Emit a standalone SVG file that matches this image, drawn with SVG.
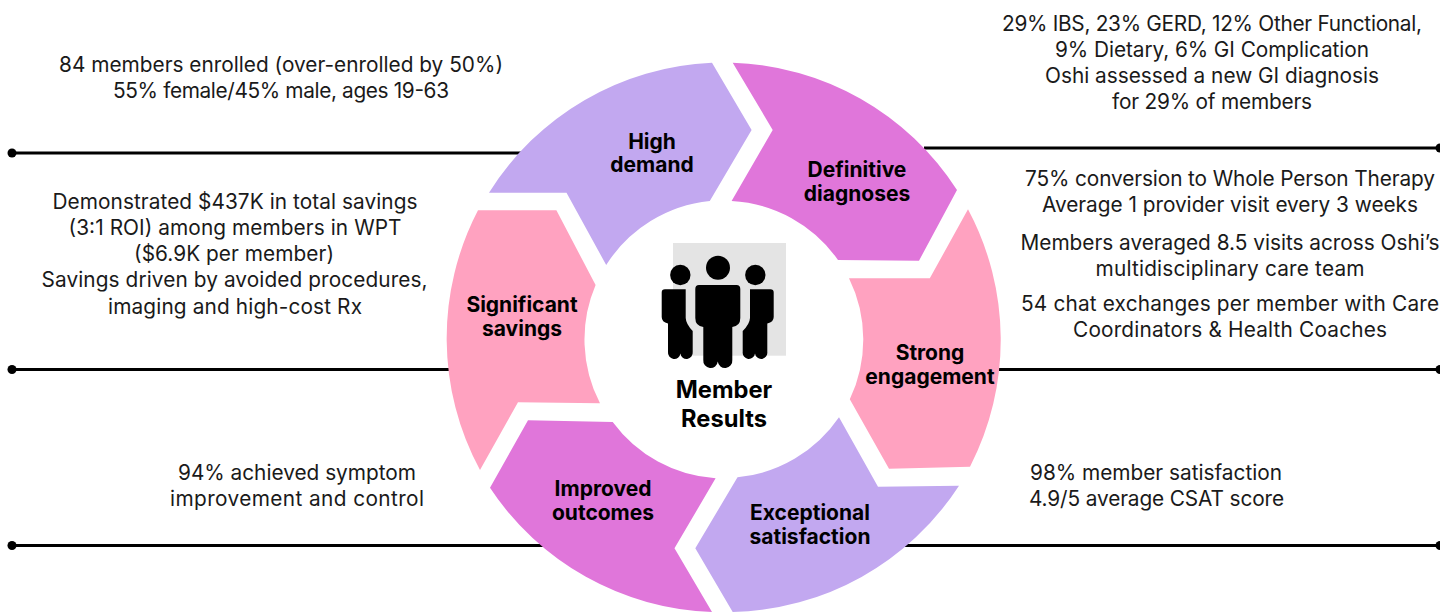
<svg xmlns="http://www.w3.org/2000/svg" width="1440" height="612" viewBox="0 0 1440 612">
<style>
.t{font-family:"Inter","Liberation Sans",sans-serif;font-size:20.8px;fill:#1a1a1a;text-anchor:middle}
.b{font-family:"Inter","Liberation Sans",sans-serif;font-size:21px;font-weight:700;fill:#000;text-anchor:middle}
.c{font-size:23.700px}
.l{stroke:#000;stroke-width:3;fill:none}
.lav{fill:#c2a8f0}.mag{fill:#e076da}.pink{fill:#ffa2c0}
</style>
<rect width="1440" height="612" fill="#fff"/>
<g id="connectors">
<path class="l" d="M12 153H525M924 148H1440M12 369.500H452M998 369.500H1440M12 545.500H545M900 545.500H1440"/>
<circle cx="12" cy="153" r="4.500"/><circle cx="1440" cy="148" r="4.500"/><circle cx="12" cy="369.500" r="4.500"/><circle cx="1440" cy="369.500" r="4.500"/><circle cx="12" cy="545.500" r="4.500"/><circle cx="1440" cy="545.500" r="4.500"/>
</g>
<g id="node-high-demand">
<path class="lav" d="M712 62.700L751.600 130L709.800 201A139 139 0 0 0 606.200 265L566.500 192.700H489A277 277 0 0 1 712 62.700Z"/>
<text class="b" x="652" y="149">High</text><text class="b" x="652" y="172">demand</text>
</g>
<g id="node-definitive-diagnoses">
<path class="mag" d="M732.700 62.700A277 277 0 0 1 957 190L919 260.700L838 260A139 139 0 0 0 731.600 201L772.700 130Z"/>
<text class="b" x="857" y="177">Definitive</text><text class="b" x="857" y="201">diagnoses</text>
</g>
<g id="node-strong-engagement">
<path class="pink" d="M968 209.300A277 277 0 0 1 970 466.700L889 468.700L849.800 399.300A139 139 0 0 0 849 278.300H929.800Z"/>
<text class="b" x="930" y="360">Strong</text><text class="b" x="930" y="384">engagement</text>
</g>
<g id="node-exceptional-satisfaction">
<path class="lav" d="M839 417.300L878 486.700L959 485.700A277 277 0 0 1 732.700 612L695.300 548.300L737.500 477.300A139 139 0 0 0 839 417.300Z"/>
<text class="b" x="810" y="520">Exceptional</text><text class="b" x="810" y="544">satisfaction</text>
</g>
<g id="node-improved-outcomes">
<path class="mag" d="M528 420.300L612.700 422A139 139 0 0 0 715.600 478.300L674.500 548.300L712 612A277 277 0 0 1 490 487.700Z"/>
<text class="b" x="603" y="496">Improved</text><text class="b" x="603" y="520">outcomes</text>
</g>
<g id="node-significant-savings">
<path class="pink" d="M478 210.300H556.400L595.600 285A139 139 0 0 0 600 403.300L518 402.300L480 470A277 277 0 0 1 478 210.300Z"/>
<text class="b" x="522" y="312">Significant</text><text class="b" x="522" y="336">savings</text>
</g>
<g id="node-member-results">
<rect x="673" y="243" width="113" height="112.700" fill="#e4e4e4"/>
<circle cx="718" cy="267.700" r="12"/><circle cx="680.300" cy="275" r="10.200"/><circle cx="755.300" cy="275" r="10.200"/>
<path d="M699 285H736.500Q740.300 285 740.300 289V318Q740.300 326 732.300 327V360A7.200 7.200 0 0 1 717.800 361.500A7.200 7.200 0 0 1 703.300 360V327Q695.300 326 695.300 318V289Q695.300 285 699 285Z"/>
<path d="M665 289.300H685.700V318Q686 324 692.700 331V352A6 6 0 0 1 680.400 353.500A6 6 0 0 1 668 352V323.500Q661.700 322 661.700 317V292.500Q661.700 289.300 665 289.300Z"/>
<path d="M770.400 289.300H750V318Q749.700 324 742.700 331V352A6 6 0 0 0 755 353.500A6 6 0 0 0 767.300 352V323.500Q773.700 322 773.700 317V292.500Q773.700 289.300 770.400 289.300Z"/>
<text class="b c" x="724" y="398">Member</text><text class="b c" x="724" y="427">Results</text>
</g>
<g id="labels">
<text class="t" x="281" y="71.500" textLength="444">84 members enrolled (over-enrolled by 50%)</text>
<text class="t" x="281" y="97.500" textLength="336">55% female/45% male, ages 19-63</text>
<text class="t" x="1212" y="30.500" textLength="420">29% IBS, 23% GERD, 12% Other Functional,</text>
<text class="t" x="1212" y="56.500" textLength="314">9% Dietary, 6% GI Complication</text>
<text class="t" x="1212" y="82.500" textLength="334">Oshi assessed a new GI diagnosis</text>
<text class="t" x="1212" y="108.500" textLength="200">for 29% of members</text>
<text class="t" x="1230" y="185.500" textLength="410">75% conversion to Whole Person Therapy</text>
<text class="t" x="1230" y="211.500" textLength="376">Average 1 provider visit every 3 weeks</text>
<text class="t" x="1230" y="249.500" textLength="419">Members averaged 8.5 visits across Oshi’s</text>
<text class="t" x="1230" y="275.500" textLength="269">multidisciplinary care team</text>
<text class="t" x="1230" y="310.500" textLength="418">54 chat exchanges per member with Care</text>
<text class="t" x="1230" y="336.500" textLength="314">Coordinators &amp; Health Coaches</text>
<text class="t" x="235" y="208.500" textLength="365">Demonstrated $437K in total savings</text>
<text class="t" x="235" y="234.500" textLength="333">(3:1 ROI) among members in WPT</text>
<text class="t" x="234" y="260.500" textLength="200">($6.9K per member)</text>
<text class="t" x="234.500" y="287" textLength="386">Savings driven by avoided procedures,</text>
<text class="t" x="235" y="313.500" textLength="254">imaging and high-cost Rx</text>
<text class="t" x="297" y="479.500" textLength="238">94% achieved symptom</text>
<text class="t" x="297" y="505.500" textLength="254">improvement and control</text>
<text class="t" x="1156" y="479.500" textLength="252">98% member satisfaction</text>
<text class="t" x="1156.500" y="505.500" textLength="255">4.9/5 average CSAT score</text>
</g>
</svg>
